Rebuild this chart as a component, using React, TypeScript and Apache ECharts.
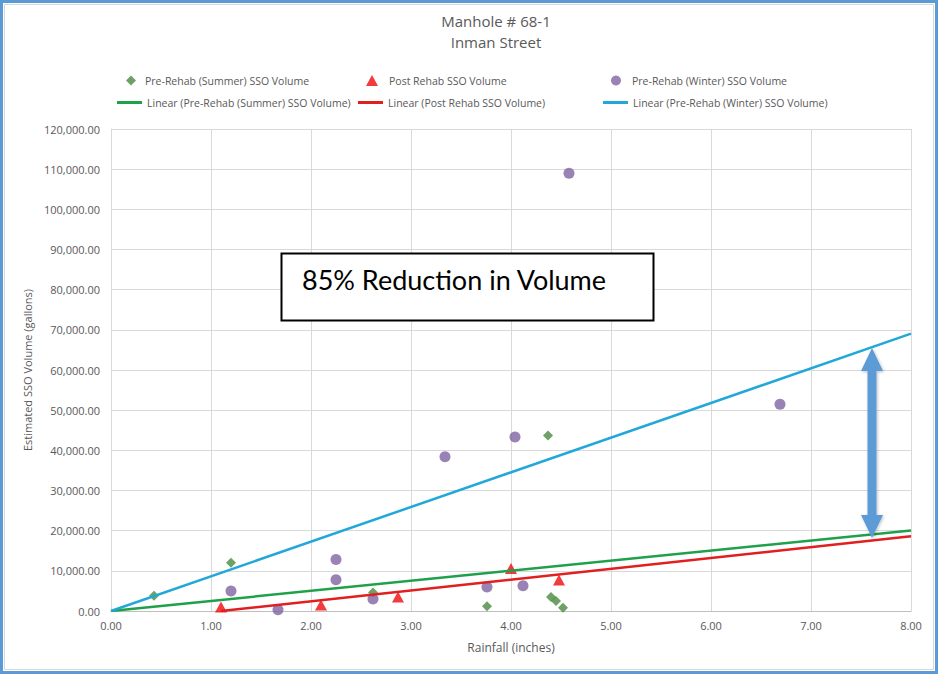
import React, { useEffect, useRef } from "react";
import * as echarts from "echarts";

const titleText = "Manhole # 68-1";
const subTitleText = "Inman Street";
const xAxisTitle = "Rainfall (inches)";
const yAxisTitle = "Estimated SSO Volume (gallons)";
const annotationText = "85% Reduction in Volume";

const summerName = "Pre-Rehab (Summer) SSO Volume";
const postName = "Post Rehab SSO Volume";
const winterName = "Pre-Rehab (Winter) SSO Volume";
const summerTrendName = "Linear (Pre-Rehab (Summer) SSO Volume)";
const postTrendName = "Linear (Post Rehab SSO Volume)";
const winterTrendName = "Linear (Pre-Rehab (Winter) SSO Volume)";

const summerX = [0.43, 1.2, 2.62, 3.76, 4.37, 4.4, 4.45, 4.52];
const summerY = [3800, 12000, 4600, 1200, 43700, 3500, 2500, 800];
const postX = [1.1, 2.1, 2.87, 4.0, 4.48];
const postY = [1000, 1500, 3500, 10600, 7700];
const winterX = [1.2, 1.67, 2.25, 2.25, 2.62, 3.34, 3.76, 4.04, 4.12, 4.58, 6.69];
const winterY = [5000, 300, 12800, 7800, 3000, 38400, 6000, 43300, 6300, 109000, 51500];

const xMin = 0;
const xMax = 8;
const xStep = 1;
const yMin = 0;
const yMax = 120000;
const yStep = 10000;

const zip = (xs: number[], ys: number[]) => xs.map((x, i) => [x, ys[i]]);

// least squares through the origin
const slopeThroughOrigin = (xs: number[], ys: number[]) => {
  let sxy = 0;
  let sxx = 0;
  xs.forEach((x, i) => {
    sxy += x * ys[i];
    sxx += x * x;
  });
  return sxy / sxx;
};

// ordinary least squares
const ols = (xs: number[], ys: number[]) => {
  const n = xs.length;
  const mx = xs.reduce((a, b) => a + b, 0) / n;
  const my = ys.reduce((a, b) => a + b, 0) / n;
  let sxy = 0;
  let sxx = 0;
  xs.forEach((x, i) => {
    sxy += (x - mx) * (ys[i] - my);
    sxx += (x - mx) * (x - mx);
  });
  const b = sxy / sxx;
  return { a: my - b * mx, b };
};

const C_SUMMER = "#4A8A3E";
const C_POST = "#F00A0A";
const C_WINTER = "#8064A2";
const C_SUMMER_T = "#1FA04A";
const C_POST_T = "#E11F1F";
const C_WINTER_T = "#22A8D8";
const C_TEXT = "#595959";
const FONT = "'Open Sans', sans-serif";

export default function App() {
  const ref = useRef<HTMLDivElement>(null);

  useEffect(() => {
    if (!ref.current) return;
    const chart = echarts.init(ref.current, undefined, { renderer: "svg" });

    const sS = slopeThroughOrigin(summerX, summerY);
    const sW = slopeThroughOrigin(winterX, winterY);
    const p = ols(postX, postY);
    const pStart = Math.min(...postX);

    const legendText = { color: C_TEXT, fontSize: 10.5, fontFamily: FONT };

    const option: any = {
      animation: false,
      backgroundColor: "#ffffff",
      title: {
        text: titleText,
        subtext: subTitleText,
        left: 491,
        top: 8,
        textAlign: "center",
        itemGap: 6,
        textStyle: { color: C_TEXT, fontSize: 15, fontWeight: "normal", fontFamily: FONT },
        subtextStyle: { color: C_TEXT, fontSize: 15, fontFamily: FONT },
      },
      legend: [
        {
          data: [{ name: summerName, icon: "diamond" }],
          left: 121, top: 70, itemWidth: 10, itemHeight: 10,
          textStyle: { ...legendText, padding: [0, 0, 0, 4] },
        },
        {
          data: [{ name: postName, icon: "triangle" }],
          left: 361, top: 70, itemWidth: 12, itemHeight: 11,
          textStyle: { ...legendText, padding: [0, 0, 0, 6] },
        },
        {
          data: [{ name: winterName, icon: "circle" }],
          left: 606, top: 70, itemWidth: 10, itemHeight: 10,
          textStyle: { ...legendText, padding: [0, 0, 0, 6] },
        },
        {
          data: [{ name: summerTrendName, icon: "rect" }],
          left: 112, top: 92, itemWidth: 25, itemHeight: 3,
          textStyle: { ...legendText },
        },
        {
          data: [{ name: postTrendName, icon: "rect" }],
          left: 353, top: 92, itemWidth: 25, itemHeight: 3,
          textStyle: { ...legendText },
        },
        {
          data: [{ name: winterTrendName, icon: "rect" }],
          left: 598, top: 92, itemWidth: 25, itemHeight: 3,
          textStyle: { ...legendText },
        },
      ],
      grid: { left: 111, right: 28, top: 129, bottom: 65, containLabel: false },
      xAxis: {
        type: "value",
        min: xMin,
        max: xMax,
        interval: xStep,
        name: xAxisTitle,
        nameLocation: "middle",
        nameGap: 30,
        nameTextStyle: { color: C_TEXT, fontSize: 12, fontFamily: FONT },
        axisLine: { show: true, lineStyle: { color: "#BFBFBF", width: 1 } },
        axisTick: { show: false },
        axisLabel: {
          color: C_TEXT, fontSize: 11, fontFamily: FONT, margin: 9,
          formatter: (v: number) => v.toFixed(2),
        },
        splitLine: { show: true, lineStyle: { color: "#D9D9D9", width: 1 } },
      },
      yAxis: {
        type: "value",
        min: yMin,
        max: yMax,
        interval: yStep,
        name: yAxisTitle,
        nameLocation: "middle",
        nameGap: 65,
        nameTextStyle: { color: C_TEXT, fontSize: 11, fontFamily: FONT },
        axisLine: { show: true, lineStyle: { color: "#D9D9D9", width: 1 } },
        axisTick: { show: false },
        axisLabel: {
          color: C_TEXT, fontSize: 11, fontFamily: FONT, margin: 11,
          formatter: (v: number) =>
            v.toLocaleString("en-US", { minimumFractionDigits: 2, maximumFractionDigits: 2 }),
        },
        splitLine: { show: true, lineStyle: { color: "#D9D9D9", width: 1 } },
      },
      series: [
        {
          name: summerName,
          type: "scatter",
          symbol: "diamond",
          symbolSize: 10,
          itemStyle: { color: C_SUMMER },
          data: zip(summerX, summerY),
          z: 2,
        },
        {
          name: postName,
          type: "scatter",
          symbol: "triangle",
          symbolSize: [12, 11],
          itemStyle: { color: C_POST },
          data: zip(postX, postY),
          z: 2,
        },
        {
          name: winterName,
          type: "scatter",
          symbol: "circle",
          symbolSize: 11,
          itemStyle: { color: C_WINTER },
          data: zip(winterX, winterY),
          z: 2,
        },
        {
          name: summerTrendName,
          type: "line",
          showSymbol: false,
          symbol: "none",
          lineStyle: { color: C_SUMMER_T, width: 2.5 },
          itemStyle: { color: C_SUMMER_T },
          data: [[xMin, 0], [xMax, sS * xMax]],
          z: 3,
        },
        {
          name: postTrendName,
          type: "line",
          showSymbol: false,
          symbol: "none",
          lineStyle: { color: C_POST_T, width: 2.5 },
          itemStyle: { color: C_POST_T },
          data: [[pStart, p.a + p.b * pStart], [xMax, p.a + p.b * xMax]],
          z: 3,
        },
        {
          name: winterTrendName,
          type: "line",
          showSymbol: false,
          symbol: "none",
          lineStyle: { color: C_WINTER_T, width: 2.5 },
          itemStyle: { color: C_WINTER_T },
          data: [[xMin, 0], [xMax, sW * xMax]],
          z: 3,
        },
      ],
      graphic: [
        {
          type: "rect",
          shape: { x: 1.5, y: 1.5, width: 935, height: 671 },
          style: { fill: "none", stroke: "#5B9BD5", lineWidth: 3 },
          silent: true,
          z: 100,
        },
        {
          type: "rect",
          shape: { x: 4.5, y: 4.5, width: 929, height: 665 },
          style: { fill: "none", stroke: "#D9D9D9", lineWidth: 1 },
          silent: true,
          z: 100,
        },
        {
          type: "rect",
          shape: { x: 281.5, y: 253.5, width: 372, height: 67 },
          style: { fill: "#ffffff", stroke: "#000000", lineWidth: 2 },
          z: 50,
        },
        {
          type: "text",
          x: 302,
          y: 279,
          style: {
            text: annotationText,
            fill: "#000000",
            fontSize: 27,
            fontFamily: "Lato, sans-serif",
            align: "left",
            verticalAlign: "middle",
          },
          z: 51,
        },
        {
          type: "polygon",
          shape: {
            points: [
              [872, 348], [883, 371], [876.5, 371], [876.5, 515], [883, 515],
              [872, 538], [861, 515], [867.5, 515], [867.5, 371], [861, 371],
            ],
          },
          style: {
            fill: "#5B9BD5",
            shadowColor: "rgba(0,0,0,0.25)",
            shadowBlur: 3,
            shadowOffsetX: 1,
            shadowOffsetY: 1,
          },
          z: 50,
        },
      ],
    };

    chart.setOption(option);
    return () => chart.dispose();
  }, []);

  return (
    <div
      ref={ref}
      style={{ position: "fixed", left: 0, top: 0, width: 939, height: 676, background: "#fff" }}
    />
  );
}
